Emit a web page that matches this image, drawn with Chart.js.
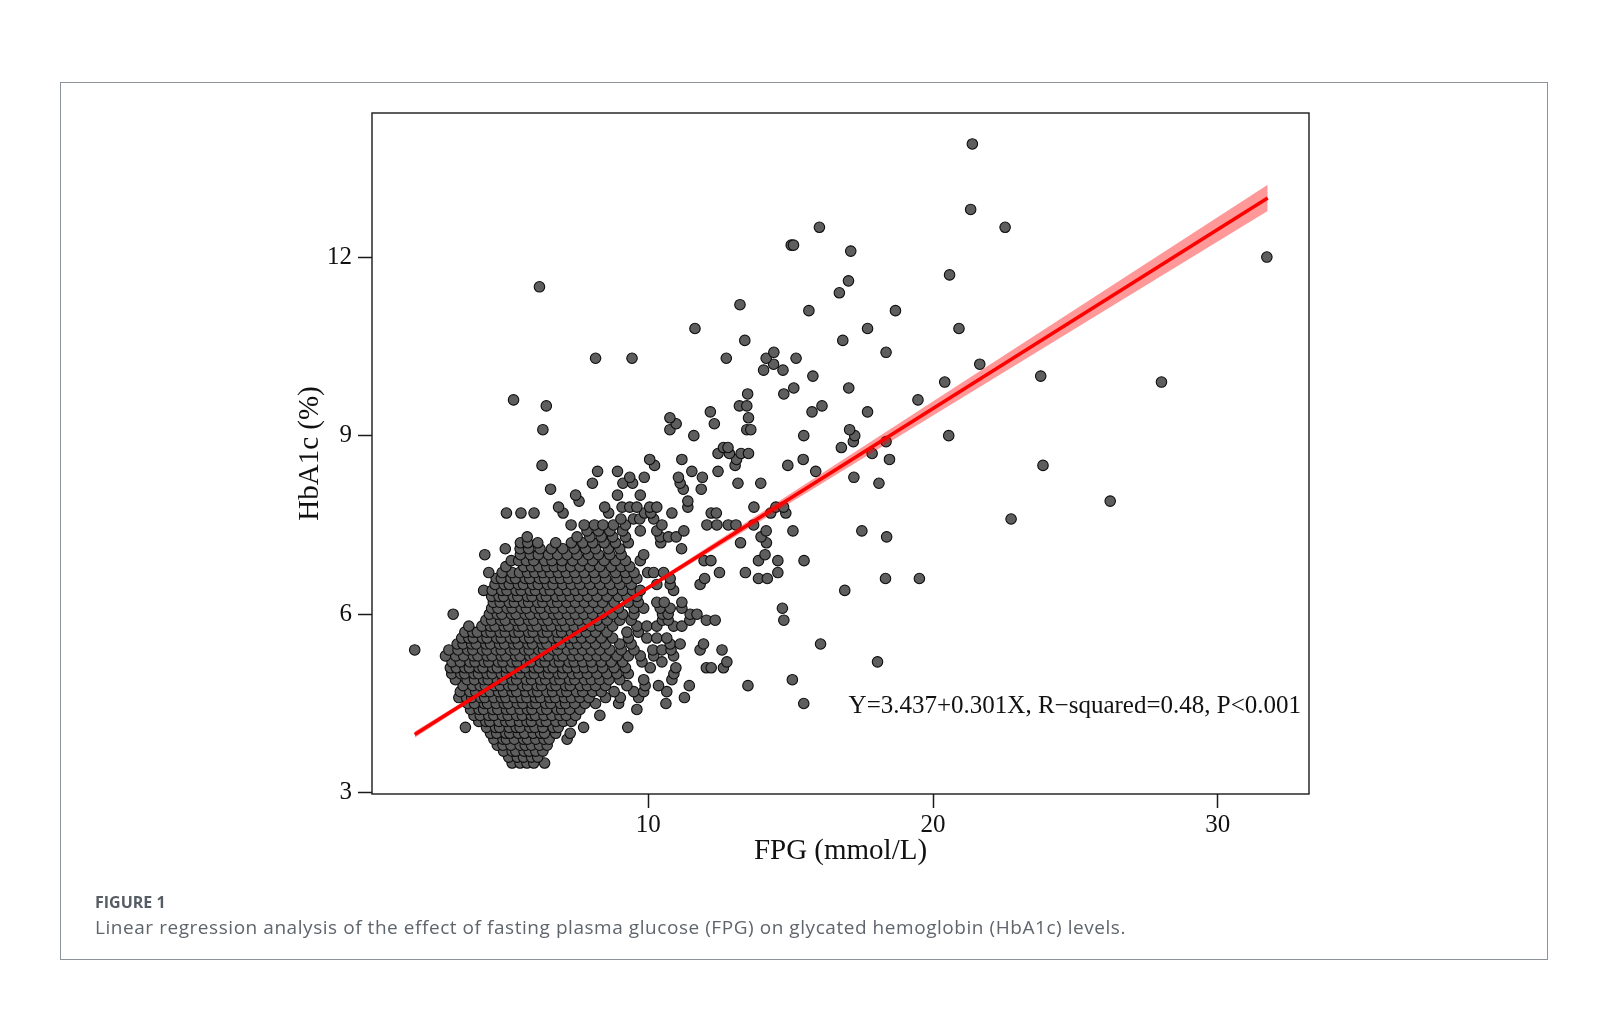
<!DOCTYPE html>
<html>
<head>
<meta charset="utf-8">
<title>FPG vs HbA1c</title>
<script src="https://cdn.jsdelivr.net/npm/chart.js@4.4.1/dist/chart.umd.min.js"></script>
<style>
  html, body { margin: 0; padding: 0; background: #fff; }
  body { width: 1607px; height: 1009px; position: relative; overflow: hidden; }
  #frame { position: absolute; left: 60px; top: 82px; width: 1488px; height: 878px;
           border: 1.5px solid #8e939a; box-sizing: border-box; }
  #chart { position: absolute; left: 0; top: 0; }
  .fig-label { position: absolute; left: 95px; top: 894px; font: 700 16px/1 "Open Sans", sans-serif; color: #575d65; }
  .fig-caption { position: absolute; left: 95px; top: 918px; font: 400 19px/1 "Open Sans", sans-serif;
                 letter-spacing: 0.55px; color: #5f656c; white-space: nowrap; }
</style>
</head>
<body>
<div id="frame"></div>
<canvas id="chart" width="1607" height="1009"></canvas>
<div class="fig-label">FIGURE 1</div>
<div class="fig-caption">Linear regression analysis of the effect of fasting plasma glucose (FPG) on glycated hemoglobin (HbA1c) levels.</div>

<script>
// HbA1c is reported to 0.1 %, so the subjects are listed per HbA1c level
// with the FPG (mmol/L) of every dot read off that row.
const hba1cLevels = [
  3.5, 3.6, 3.7, 3.8, 3.9, 4.0, 4.1, 4.2, 4.3, 4.4, 4.5, 4.6, 4.7, 4.8, 4.9,
  5.0, 5.1, 5.2, 5.3, 5.4, 5.5, 5.6, 5.7, 5.8, 5.9, 6.0, 6.1, 6.2, 6.3, 6.4,
  6.5, 6.6, 6.7, 6.8, 6.9, 7.0, 7.1, 7.2, 7.3, 7.4, 7.5, 7.6, 7.7, 7.8, 7.9,
  8.0, 8.1, 8.2, 8.3, 8.4, 8.5, 8.6, 8.7, 8.8, 8.9, 9.0, 9.1, 9.2, 9.3, 9.4,
  9.5, 9.6, 9.7, 9.8, 9.9, 10.0, 10.1, 10.2, 10.3, 10.4, 10.6, 10.8, 11.1, 11.2,
  11.4, 11.5, 11.6, 11.7, 12.0, 12.1, 12.2, 12.5, 12.8, 13.9
];

const fpgByLevel = [
  [5.22, 5.5, 5.74, 5.98, 6.36],
  [5.1, 5.4, 5.62, 5.9, 6.12],
  [4.92, 5.22, 5.35, 5.64, 5.82, 6.05, 6.3],
  [4.7, 4.9, 5.18, 5.5, 5.68, 5.9, 6.18, 6.45],
  [4.58, 4.9, 5.02, 5.3, 5.62, 5.76, 6.05, 6.34, 6.52, 7.15],
  [4.46, 4.68, 5.0, 5.14, 5.44, 5.66, 5.96, 6.22, 6.36, 6.75, 7.26],
  [3.58, 4.32, 4.64, 4.78, 5.12, 5.36, 5.5, 5.84, 6.02, 6.3, 6.66, 6.84, 7.73, 9.28],
  [4.05, 4.3, 4.44, 4.76, 5.0, 5.18, 5.48, 5.74, 5.9, 6.24, 6.42, 6.76, 7.02, 7.3],
  [3.88, 4.1, 4.4, 4.58, 4.88, 5.08, 5.38, 5.58, 5.9, 6.04, 6.34, 6.62, 6.9, 7.12, 7.45, 8.3],
  [3.76, 4.06, 4.22, 4.54, 4.72, 5.02, 5.2, 5.5, 5.76, 5.92, 6.26, 6.44, 6.8, 6.96, 7.24, 7.6, 9.6],
  [3.66, 3.9, 4.24, 4.36, 4.66, 4.94, 5.08, 5.4, 5.6, 5.92, 6.06, 6.4, 6.58, 6.92, 7.1, 7.42, 7.78, 8.15, 8.96, 10.62, 15.46],
  [3.35, 3.62, 3.8, 4.12, 4.26, 4.58, 4.84, 5.0, 5.3, 5.54, 5.74, 6.04, 6.22, 6.54, 6.74, 7.06, 7.3, 7.6, 7.92, 8.5, 9.02, 9.66, 11.27],
  [3.4, 3.74, 3.94, 4.24, 4.44, 4.74, 4.92, 5.22, 5.38, 5.7, 5.96, 6.12, 6.44, 6.64, 6.96, 7.14, 7.48, 7.7, 8.05, 8.35, 8.8, 9.49, 9.84, 10.65],
  [3.5, 3.84, 4.1, 4.28, 4.6, 4.8, 5.1, 5.26, 5.6, 5.76, 6.1, 6.26, 6.6, 6.76, 7.1, 7.26, 7.62, 7.86, 8.15, 8.5, 9.25, 9.89, 10.36, 11.44, 13.5],
  [3.23, 3.64, 3.9, 4.22, 4.38, 4.7, 4.9, 5.22, 5.38, 5.72, 5.9, 6.22, 6.4, 6.72, 6.9, 7.24, 7.42, 7.76, 8.0, 8.3, 8.62, 9.0, 9.84, 10.83, 15.06],
  [3.1, 3.42, 3.56, 3.88, 4.04, 4.34, 4.52, 4.84, 5.02, 5.34, 5.5, 5.84, 6.0, 6.32, 6.5, 6.84, 7.0, 7.34, 7.56, 7.86, 8.2, 8.55, 8.9, 9.3, 10.9],
  [3.05, 3.26, 3.56, 3.72, 4.06, 4.2, 4.54, 4.7, 5.02, 5.18, 5.5, 5.68, 6.0, 6.16, 6.5, 6.66, 7.0, 7.18, 7.48, 7.76, 8.05, 8.4, 8.8, 9.2, 10.07, 10.97, 12.04, 12.21, 12.64],
  [3.11, 3.4, 3.74, 3.92, 4.24, 4.4, 4.74, 4.9, 5.22, 5.4, 5.72, 5.88, 6.22, 6.38, 6.72, 6.88, 7.22, 7.4, 7.7, 8.0, 8.35, 8.7, 9.1, 9.78, 10.48, 12.76, 18.05],
  [2.88, 3.24, 3.52, 3.86, 4.02, 4.34, 4.52, 4.84, 5.0, 5.34, 5.5, 5.84, 6.0, 6.34, 6.5, 6.84, 7.0, 7.34, 7.58, 7.9, 8.2, 8.5, 8.9, 9.3, 9.72, 10.19, 10.89],
  [1.8, 3.0, 3.32, 3.66, 3.84, 4.18, 4.34, 4.66, 4.84, 5.16, 5.32, 5.66, 5.82, 6.16, 6.32, 6.66, 6.82, 7.16, 7.4, 7.7, 8.0, 8.3, 8.65, 9.05, 9.5, 10.16, 10.48, 10.8, 11.82, 12.59],
  [3.29, 3.5, 3.8, 3.96, 4.3, 4.46, 4.78, 4.96, 5.28, 5.44, 5.78, 5.94, 6.28, 6.44, 6.78, 6.94, 7.28, 7.52, 7.82, 8.15, 8.5, 9.0, 9.4, 10.77, 11.12, 11.94, 16.05],
  [3.45, 3.7, 3.86, 4.18, 4.34, 4.68, 4.84, 5.16, 5.34, 5.66, 5.84, 6.16, 6.34, 6.66, 6.84, 7.16, 7.38, 7.66, 7.98, 8.35, 8.75, 9.3, 9.95, 10.3, 10.65],
  [3.56, 3.84, 4.0, 4.32, 4.48, 4.8, 4.98, 5.3, 5.46, 5.8, 5.96, 6.3, 6.46, 6.8, 6.96, 7.3, 7.52, 7.82, 8.15, 8.55, 9.25, 9.65],
  [3.7, 4.16, 4.46, 4.62, 4.94, 5.1, 5.44, 5.6, 5.92, 6.1, 6.42, 6.6, 6.92, 7.1, 7.4, 7.7, 8.0, 8.3, 8.75, 9.6, 9.95, 10.3, 10.89, 11.18],
  [4.3, 4.5, 4.82, 4.98, 5.32, 5.48, 5.8, 5.98, 6.3, 6.48, 6.8, 6.98, 7.28, 7.56, 7.88, 8.2, 8.55, 9.0, 9.4, 10.5, 10.7, 11.46, 12.04, 12.35, 14.76],
  [3.15, 4.42, 4.7, 4.86, 5.2, 5.36, 5.68, 5.86, 6.18, 6.36, 6.68, 6.86, 7.16, 7.44, 7.74, 8.05, 8.4, 8.75, 9.1, 9.5, 10.5, 10.7, 11.47, 11.71],
  [4.5, 4.72, 5.04, 5.22, 5.54, 5.72, 6.04, 6.22, 6.54, 6.72, 7.02, 7.3, 7.6, 7.92, 8.25, 8.6, 8.95, 9.5, 9.84, 10.42, 10.77, 11.18, 14.71],
  [4.56, 4.8, 5.12, 5.3, 5.62, 5.8, 6.12, 6.3, 6.62, 6.82, 7.14, 7.44, 7.76, 8.08, 8.4, 8.8, 9.3, 9.65, 10.3, 10.56, 11.18],
  [4.5, 4.76, 4.92, 5.26, 5.42, 5.76, 5.92, 6.26, 6.42, 6.76, 6.98, 7.26, 7.56, 7.88, 8.2, 8.55, 8.95, 9.25, 9.6],
  [4.22, 4.52, 4.86, 5.04, 5.36, 5.54, 5.86, 6.04, 6.36, 6.56, 6.88, 7.16, 7.44, 7.72, 8.05, 8.4, 8.75, 9.1, 9.45, 9.72, 10.89, 16.9],
  [4.62, 4.94, 5.12, 5.44, 5.62, 5.94, 6.14, 6.46, 6.66, 7.0, 7.3, 7.6, 7.95, 8.3, 8.65, 9.0, 9.4, 10.3, 10.77, 11.82],
  [4.66, 4.84, 5.18, 5.34, 5.68, 5.84, 6.18, 6.36, 6.7, 6.92, 7.2, 7.5, 7.82, 8.15, 8.5, 8.9, 9.25, 9.6, 10.77, 11.98, 13.87, 14.18, 18.33, 19.52],
  [4.4, 4.87, 5.22, 5.48, 5.76, 6.02, 6.3, 6.56, 6.84, 7.12, 7.42, 7.75, 8.1, 8.45, 8.85, 9.2, 9.5, 9.98, 10.19, 10.54, 12.5, 13.41, 14.55],
  [5.0, 5.63, 5.9, 6.16, 6.44, 6.7, 6.98, 7.28, 7.6, 7.95, 8.3, 8.7, 9.05, 9.35],
  [5.19, 5.45, 5.72, 5.98, 6.36, 6.62, 6.97, 7.35, 7.7, 8.05, 8.45, 8.85, 9.2, 9.72, 11.96, 12.2, 13.87, 14.55, 15.47],
  [4.26, 5.51, 5.86, 6.14, 6.5, 6.82, 7.15, 7.5, 7.9, 8.25, 8.65, 9.05, 9.84, 14.1],
  [4.98, 5.5, 5.8, 6.2, 6.6, 7.0, 7.4, 7.8, 8.15, 8.6, 9.0, 11.17],
  [5.51, 5.77, 6.12, 6.75, 7.3, 7.7, 8.05, 8.45, 8.85, 9.3, 10.44, 13.24, 14.15],
  [5.75, 7.5, 7.95, 8.35, 8.75, 9.2, 10.42, 10.71, 10.98, 13.96, 18.37],
  [7.85, 8.25, 8.65, 9.1, 9.72, 10.3, 11.25, 14.14, 15.08, 17.5],
  [7.29, 7.75, 8.11, 8.41, 8.78, 9.2, 10.48, 12.06, 12.41, 12.81, 13.08, 13.7],
  [9.04, 9.48, 9.7, 10.19, 22.74],
  [5.02, 5.53, 5.99, 7.01, 8.61, 9.87, 10.09, 10.83, 12.21, 12.39, 14.3, 14.83],
  [6.85, 8.47, 9.08, 9.35, 9.6, 10.05, 10.3, 11.39, 13.71, 14.48, 14.75],
  [7.57, 11.39, 26.22],
  [7.45, 8.92, 9.72],
  [6.57, 11.23, 11.86],
  [8.04, 9.11, 9.45, 11.12, 13.15, 13.95, 18.1],
  [9.35, 9.86, 11.06, 11.9, 17.22],
  [8.22, 8.92, 11.53, 12.45, 15.88],
  [6.27, 10.22, 13.05, 14.9, 23.86],
  [10.05, 11.18, 13.1, 15.44, 18.47],
  [12.45, 12.85, 13.26, 13.52, 17.86],
  [12.64, 12.8, 16.78],
  [17.2, 18.35],
  [11.6, 15.46, 17.25, 20.55],
  [6.3, 10.76, 13.46, 13.6, 17.07],
  [10.98, 12.32],
  [10.76, 13.52],
  [12.18, 15.75, 17.7],
  [6.42, 13.2, 13.46, 16.1],
  [5.27, 19.47],
  [13.49, 14.76],
  [15.11, 17.04],
  [20.41, 28.02],
  [15.78, 23.78],
  [14.05, 14.73],
  [14.4, 21.64],
  [8.15, 9.43, 12.74, 14.14, 15.19],
  [14.41, 18.35],
  [13.39, 16.83],
  [11.64, 17.7, 20.91],
  [15.64, 18.68],
  [13.22],
  [16.71],
  [6.18],
  [17.03],
  [20.58],
  [31.72],
  [17.11],
  [15.02, 15.1],
  [16.01, 22.53],
  [21.32],
  [21.38]
];

// fitted model printed on the figure
const fitIntercept = 3.437;
const fitSlope = 0.301;
const fitText = "Y=3.437+0.301X, R\u2212squared=0.48, P<0.001";
const fitRange = [1.8, 31.75];

// half width of the shaded 95% band, read at a few FPG values
const bandX = [1.8, 4, 7, 10, 14, 18, 22, 26, 31.75];
const bandHalfWidth = [0.052, 0.036, 0.025, 0.036, 0.067, 0.1, 0.135, 0.17, 0.22];

const xTicks = [10, 20, 30];
const yTicks = [3, 6, 9, 12];
const xTitle = "FPG (mmol/L)";
const yTitle = "HbA1c (%)";

(function(){
  const points = hba1cLevels.flatMap((h, i) => fpgByLevel[i].map(x => ({x: x, y: h})));
  const fitAt = x => fitIntercept + fitSlope * x;
  const fitLine = fitRange.map(x => ({x: x, y: fitAt(x)}));
  const bandUpper = bandX.map((x, i) => ({x: x, y: fitAt(x) + bandHalfWidth[i]}));
  const bandLower = bandX.map((x, i) => ({x: x, y: fitAt(x) - bandHalfWidth[i]}));

  const serif = "'Liberation Serif', 'Times New Roman', serif";

  const plotFrame = {
    id: "plotFrame",
    afterDatasetsDraw(chart){
      const {ctx, chartArea: a} = chart;
      ctx.save();
      ctx.font = "25px " + serif;
      ctx.fillStyle = "#111";
      ctx.textAlign = "right";
      ctx.textBaseline = "alphabetic";
      ctx.fillText(fitText, a.right - 8, a.bottom - 81);
      ctx.restore();
    },
    afterDraw(chart){
      const {ctx, chartArea: a} = chart;
      ctx.save();
      ctx.strokeStyle = "#1a1a1a";
      ctx.lineWidth = 1.4;
      ctx.strokeRect(a.left, a.top, a.right - a.left, a.bottom - a.top);
      ctx.restore();
    }
  };

  const tickGrid = {display: true, drawOnChartArea: false, drawTicks: true, tickLength: 14, tickColor: "#1a1a1a", tickWidth: 1.5};

  new Chart(document.getElementById("chart"), {
    type: "scatter",
    data: {
      datasets: [
        { type: "line", data: fitLine, borderColor: "#ff0000", borderWidth: 3.6, pointRadius: 0, tension: 0, fill: false },
        { type: "line", data: bandUpper, borderWidth: 0, pointRadius: 0, tension: 0, fill: "+1", backgroundColor: "rgba(255,0,0,0.4)" },
        { type: "line", data: bandLower, borderWidth: 0, pointRadius: 0, tension: 0, fill: false },
        { type: "scatter", data: points, pointRadius: 5.25, borderWidth: 1.1,
          backgroundColor: "#5e5e5e", borderColor: "#0d0d0d" }
      ]
    },
    options: {
      responsive: false,
      animation: false,
      events: [],
      layout: { padding: { top: 113, right: 298, left: 0, bottom: 0 } },
      plugins: { legend: { display: false }, tooltip: { enabled: false } },
      scales: {
        x: {
          type: "linear", min: 0.3, max: 33.2,
          afterFit(s){ s.height = 215; },
          afterBuildTicks(s){ s.ticks = xTicks.map(v => ({value: v})); },
          grid: tickGrid,
          border: { display: false },
          ticks: { color: "#111", padding: 2, font: { family: serif, size: 25 } },
          title: { display: true, text: xTitle, color: "#111", font: { family: serif, size: 29 },
                   padding: { top: 0, bottom: 140 } }
        },
        y: {
          type: "linear", min: 2.98, max: 14.42,
          afterFit(s){ s.width = 372; },
          afterBuildTicks(s){ s.ticks = yTicks.map(v => ({value: v})); },
          grid: tickGrid,
          border: { display: false },
          ticks: { color: "#111", padding: 6, font: { family: serif, size: 25 } },
          title: { display: true, text: yTitle, color: "#111", font: { family: serif, size: 29 },
                   padding: { top: 293, bottom: 0 } }
        }
      }
    },
    plugins: [plotFrame]
  });
})();
</script>
</body>
</html>
